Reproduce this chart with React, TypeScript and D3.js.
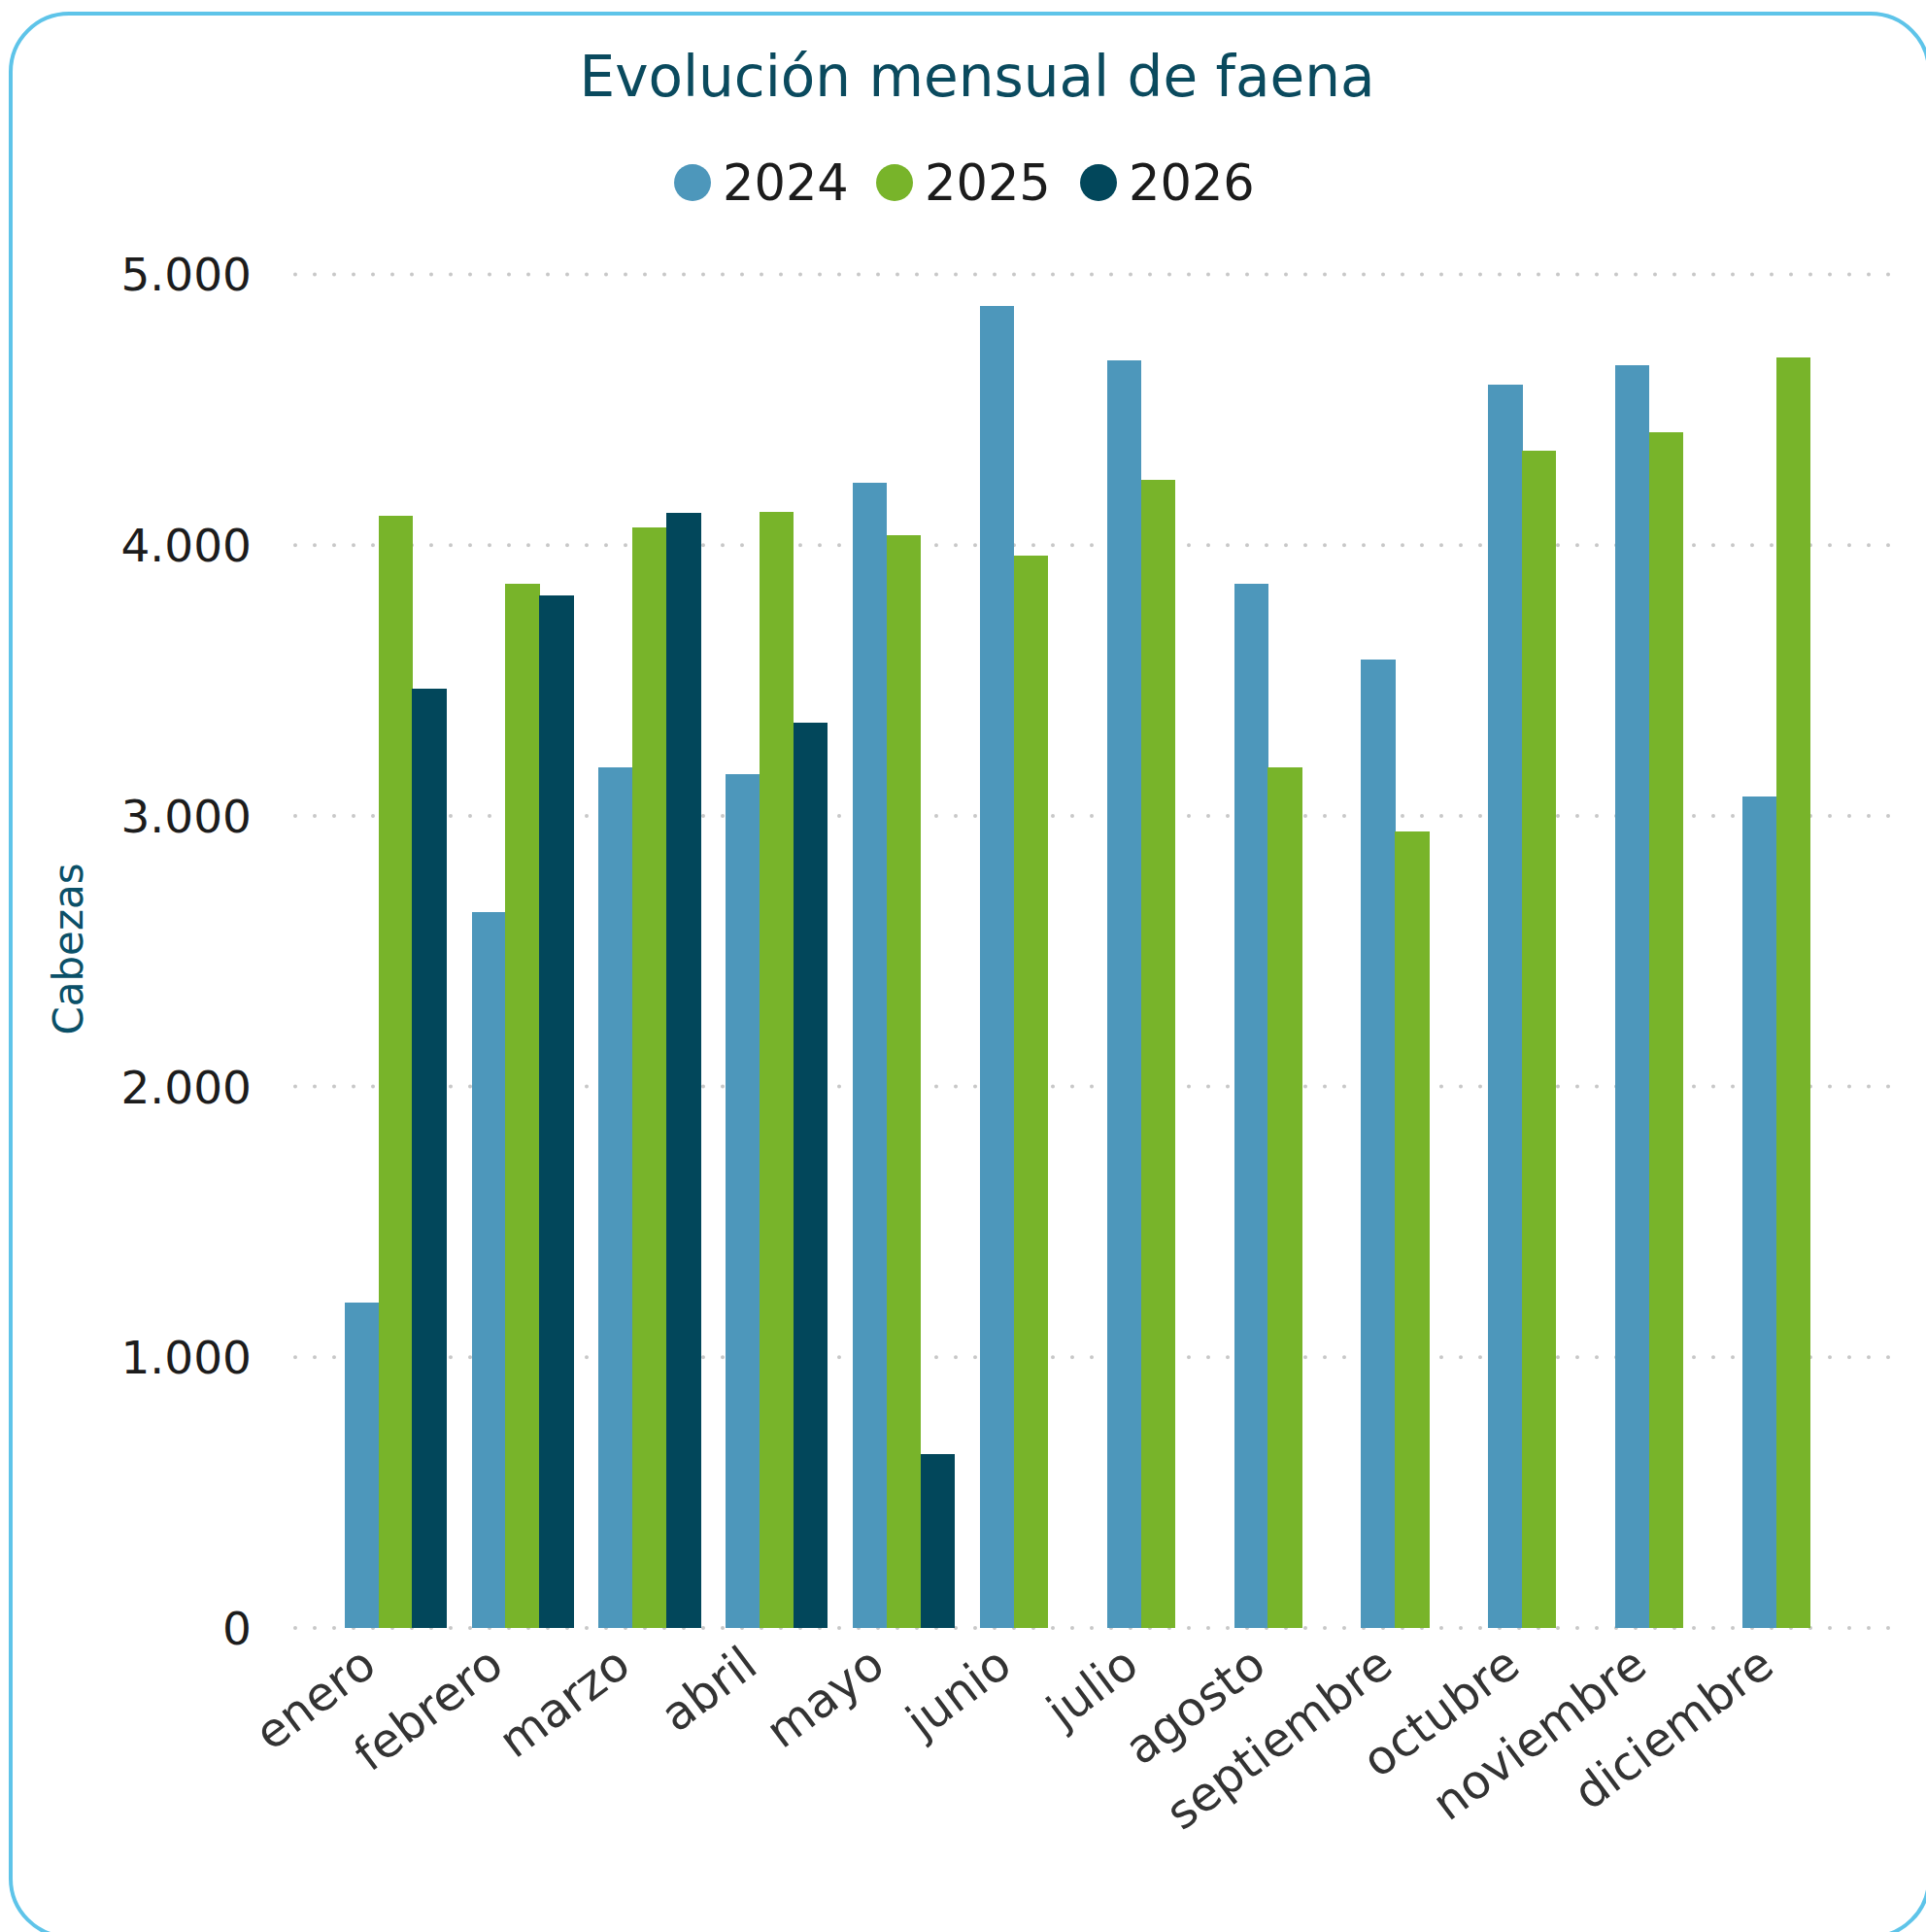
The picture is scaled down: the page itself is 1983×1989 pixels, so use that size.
import React from "react";
import * as d3 from "d3";

const months = ["enero", "febrero", "marzo", "abril", "mayo", "junio", "julio", "agosto", "septiembre", "octubre", "noviembre", "diciembre"];
const seriesNames = ["2024", "2025", "2026"];
const values2024 = [1201, 2644, 3180, 3154, 4229, 4885, 4681, 3856, 3579, 4591, 4665, 3071];
const values2025 = [4107, 3856, 4067, 4121, 4035, 3960, 4242, 3179, 2942, 4349, 4417, 4694];
const values2026: (number | null)[] = [3468, 3813, 4118, 3345, 644, null, null, null, null, null, null, null];
const seriesColors = ["#4d97bb", "#78b42a", "#02475b"];
const yTicks = [0, 1000, 2000, 3000, 4000, 5000];
const titleText = "Evolución mensual de faena";
const yTitle = "Cabezas";

const W = 1983;
const H = 1989;
const FONT = "'DejaVu Sans', Verdana, sans-serif";

export default function App() {
  const allSeries = [values2024, values2025, values2026];
  const y = d3.scaleLinear().domain([0, 5000]).range([1676, 282.5]);
  const x0 = d3.scaleBand<string>().domain(months).range([341.6, 1911.6]).paddingInner(0.2).paddingOuter(0.1);
  const x1 = d3.scaleBand<string>().domain(seriesNames).range([0, x0.bandwidth()]).padding(0);
  const fmt = (v: number) => d3.format(",")(v).replace(/,/g, ".");
  const gridLeft = 304;
  const gridRight = 1964;
  const legendX = [713, 921, 1131];

  return (
    <svg width={W} height={H} style={{ position: "absolute", left: 0, top: 0, background: "#fff" }} fontFamily={FONT}>
      <rect x={11} y={14} width={1975} height={1980} rx={60} ry={60} fill="#ffffff" stroke="#5ec4e9" strokeWidth={4} />
      <text x={1006} y={99} textAnchor="middle" fontSize={58} fill="#0a4a5e">{titleText}</text>
      {seriesNames.map((s, i) => (
        <g key={s}>
          <circle cx={legendX[i]} cy={188} r={19} fill={seriesColors[i]} />
          <text x={legendX[i] + 31} y={188 + 51 * 0.36} fontSize={51} fill="#1c1c1c">{s}</text>
        </g>
      ))}
      {yTicks.map((t) => (
        <g key={t}>
          <line x1={gridLeft} x2={gridRight} y1={y(t)} y2={y(t)} stroke="#c8c8c8" strokeWidth={4} strokeDasharray="0 20" strokeLinecap="round" />
          <text x={259} y={y(t) + 47 * 0.36} textAnchor="end" fontSize={47} fill="#1c1c1c">{fmt(t)}</text>
        </g>
      ))}
      <text transform={`translate(85,977) rotate(-90)`} textAnchor="middle" fontSize={42} fill="#0a5068">{yTitle}</text>
      {months.map((m, mi) => (
        <g key={m} shapeRendering="crispEdges">
          {allSeries.map((vals, si) => {
            const v = vals[mi];
            if (v == null) return null;
            return (
              <rect
                key={si}
                x={(x0(m) as number) + (x1(seriesNames[si]) as number)}
                y={y(v)}
                width={x1.bandwidth() + 0.5}
                height={y(0) - y(v)}
                fill={seriesColors[si]}
              />
            );
          })}
        </g>
      ))}
      {months.map((m) => {
        const cx = (x0(m) as number) + x0.bandwidth() / 2;
        return (
          <text key={m} transform={`translate(${cx - 17},1720) rotate(-37)`} textAnchor="end" fontSize={48.5} fill="#333333">{m}</text>
        );
      })}
    </svg>
  );
}
